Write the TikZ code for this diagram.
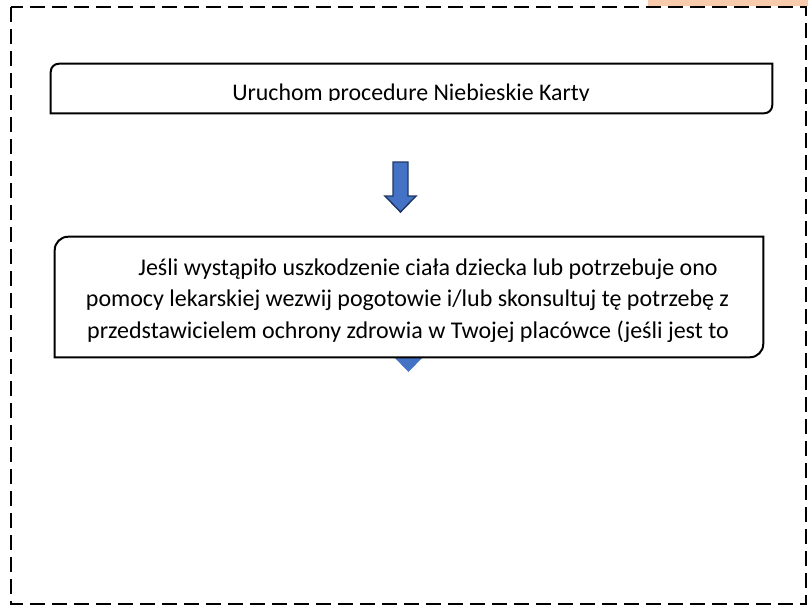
\documentclass[tikz,border=0pt]{standalone}
\usepackage{fontspec}
\setmainfont{Carlito}
\usetikzlibrary{positioning, calc}

\definecolor{arrowblue}{HTML}{4472C4}
\definecolor{arrowline}{HTML}{203864}
\definecolor{tabpeach}{HTML}{F8CBAD}

\begin{document}
\begin{tikzpicture}[
  x=0.75pt, y=-0.75pt,
  every node/.style={align=center},
  %% --- styles ---
  outerframe/.style={draw=black, line width=1.5pt, dash pattern=on 11.25pt off 5.25pt},
  boxarea/.style={draw=none, inner sep=0pt},
  boxedge/.style={draw=black, line width=1.5pt, fill=white},
  bigtext/.style={anchor=base, inner sep=0pt, font=\fontsize{17.9}{21}\selectfont},
  bodytext/.style={anchor=base, inner sep=0pt, font=\fontsize{18}{23.5}\selectfont},
  blockarrow/.style={fill=arrowblue, draw=arrowline, line width=1.1pt, line join=miter},
  hiddenarrow/.style={fill=arrowblue}
]
  \useasboundingbox (0,0) rectangle (808,607);

  %% --- page background bits ---
  \fill[tabpeach] (648,0) rectangle (808,6);
  \draw[outerframe] (11,7) rectangle (806,604);

  %% --- box areas ---
  \node[boxarea, minimum width=540.75pt, minimum height=36.75pt] (StepOne) at (411.5,88.5) {};
  \node[boxarea, minimum width=531pt, minimum height=90pt] (StepTwo) at (409,297) {};

  %% --- arrow under box two (mostly hidden) ---
  \coordinate (ArrowTwoTop) at (408.5,322);
  \fill[hiddenarrow] (ArrowTwoTop) ++(-7.5,0) -- ++(0,34) -- ++(-8,0) -- ++(15.5,16)
    -- ++(15.5,-16) -- ++(-8,0) -- ++(0,-34) -- cycle;

  %% --- box outlines (two rounded corners) ---
  \draw[boxedge] (StepOne.south west) -- ([yshift=-6pt]StepOne.north west)
    arc[start angle=180, end angle=90, radius=6pt] -- (StepOne.north east)
    -- ([yshift=6pt]StepOne.south east) arc[start angle=0, end angle=-90, radius=6pt] -- cycle;
  \draw[boxedge] (StepTwo.south west) -- ([yshift=-10pt]StepTwo.north west)
    arc[start angle=180, end angle=90, radius=10pt] -- (StepTwo.north east)
    -- ([yshift=10pt]StepTwo.south east) arc[start angle=0, end angle=-90, radius=10pt] -- cycle;

  %% --- arrow between the boxes ---
  \coordinate (ArrowOneTop) at (400.5,162);
  \draw[blockarrow] (ArrowOneTop) ++(-7.5,0) -- ++(0,34) -- ++(-8,0) -- ++(15.5,16)
    -- ++(15.5,-16) -- ++(-8,0) -- ++(0,-34) -- cycle;

  %% --- texts, clipped like the boxes ---
  \begin{scope}
    \clip (StepOne.north west) rectangle (772,100.5);
    \node[bigtext] (StepOneText) at (411,100) {Uruchom procedurę Niebieskie Karty};
  \end{scope}
  \begin{scope}
    \clip (StepTwo.north west) rectangle (763,341.5);
    \node[bodytext] (LineA) at (428,275) {Jeśli wystąpiło uszkodzenie ciała dziecka lub potrzebuje ono};
    \node[bodytext] (LineB) at (407.5,306.5) {pomocy lekarskiej wezwij pogotowie i/lub skonsultuj tę potrzebę z};
    \node[bodytext] (LineC) at (408,338) {przedstawicielem ochrony zdrowia w Twojej placówce (jeśli jest to};
  \end{scope}
\end{tikzpicture}
\end{document}
